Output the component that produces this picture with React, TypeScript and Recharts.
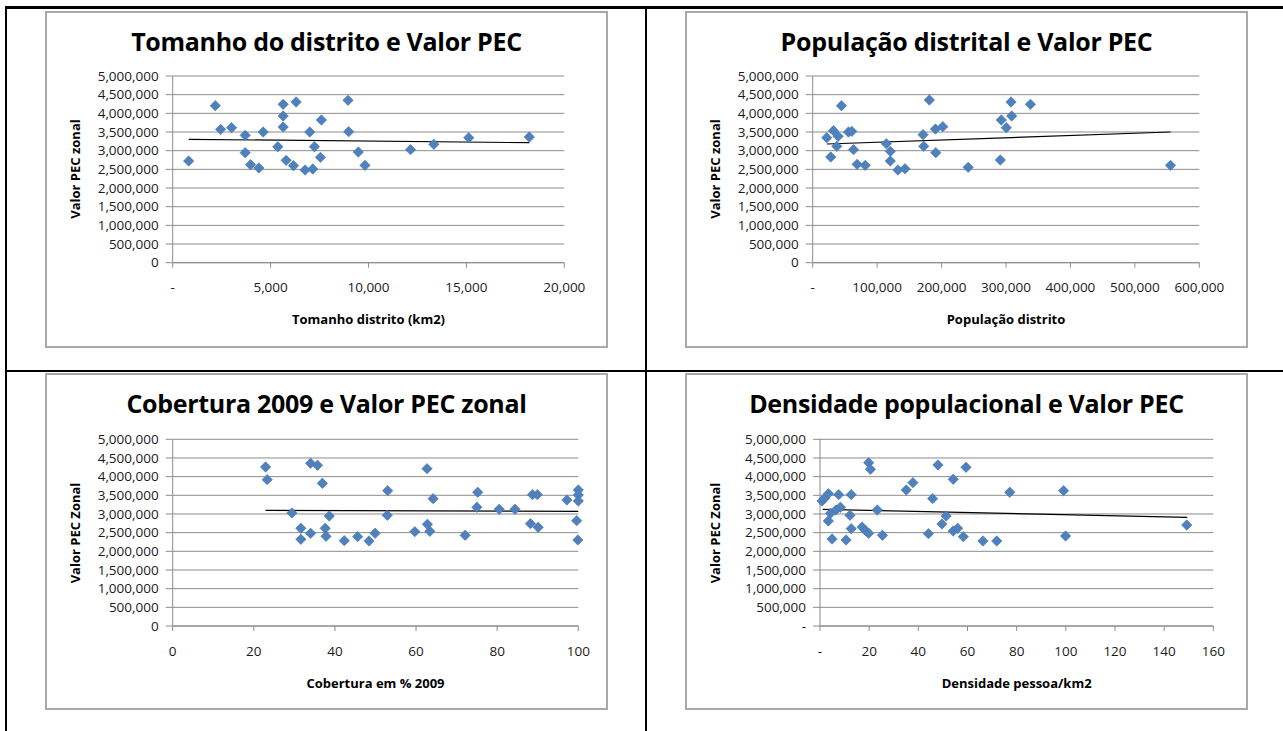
import { CartesianGrid, ReferenceLine, Scatter, ScatterChart, XAxis, YAxis } from "recharts";

const FONT = "'Open Sans', 'Noto Sans', 'Liberation Sans', sans-serif";
const GRID = "#8c8c8c";
const BLUE = "#4F81BD";
const TEXT = "#1a1a1a";

// shared y axis (Valor PEC)
const pecTicks = [0, 500000, 1000000, 1500000, 2000000, 2500000, 3000000, 3500000, 4000000, 4500000, 5000000];

// Tomanho do distrito (km2)
const areaKm2 = [815, 2175, 2447, 3007, 3704, 3704, 3976, 4400, 4621, 5369, 5641, 5641, 5641, 5794, 6168, 6304, 6762, 7000, 7153, 7238, 7544, 7595, 8954, 8988, 9480, 9820, 12148, 13337, 15121, 18213];
const pecByArea = [2723000, 4205000, 3571000, 3616000, 3411000, 2946000, 2625000, 2536000, 3500000, 3107000, 4241000, 3929000, 3634000, 2741000, 2598000, 4304000, 2482000, 3500000, 2509000, 3107000, 2821000, 3821000, 4348000, 3509000, 2964000, 2607000, 3027000, 3170000, 3348000, 3366000];
const areaTrendX = [815, 18213];
const areaTrendY = [3304000, 3214000];
const areaTicks = [0, 5000, 10000, 15000, 20000];

// População distrito
const population = [21800, 28000, 32200, 37400, 39400, 44600, 55500, 60700, 63300, 68900, 81500, 114200, 120400, 120400, 132300, 143200, 171300, 172300, 181100, 190500, 191000, 201900, 241300, 291200, 292700, 300500, 307800, 308800, 337900, 555300];
const pecByPopulation = [3348000, 2830000, 3536000, 3116000, 3384000, 4205000, 3500000, 3518000, 3027000, 2634000, 2607000, 3188000, 2982000, 2723000, 2482000, 2518000, 3429000, 3116000, 4357000, 3580000, 2946000, 3643000, 2554000, 2750000, 3821000, 3616000, 4304000, 3929000, 4241000, 2607000];
const popTrendX = [21800, 555300];
const popTrendY = [3179000, 3500000];
const popTicks = [0, 100000, 200000, 300000, 400000, 500000, 600000];

// Cobertura em % 2009
const coverage = [22.9, 23.3, 29.4, 31.6, 31.6, 34.0, 34.0, 35.7, 36.9, 37.6, 37.8, 38.6, 42.3, 45.6, 48.4, 49.9, 53.0, 52.9, 59.7, 62.7, 62.8, 63.4, 64.2, 72.1, 75.0, 75.2, 80.5, 84.4, 88.2, 88.7, 89.9, 90.1, 97.2, 99.6, 99.9, 100, 100, 100];
const pecByCoverage = [4259000, 3920000, 3027000, 2616000, 2321000, 2482000, 4357000, 4304000, 3821000, 2616000, 2402000, 2946000, 2286000, 2393000, 2277000, 2482000, 3625000, 2964000, 2527000, 4214000, 2723000, 2536000, 3411000, 2429000, 3179000, 3580000, 3125000, 3125000, 2741000, 3518000, 3518000, 2643000, 3375000, 2821000, 2304000, 3643000, 3509000, 3348000];
const covTrendX = [22.9, 100];
const covTrendY = [3098000, 3071000];
const covTicks = [0, 20, 40, 60, 80, 100];

// Densidade pessoa/km2
const density = [0.8, 1.9, 3.4, 3.4, 4.3, 4.9, 6.5, 7.6, 8.3, 10.6, 12.2, 12.7, 12.7, 17.1, 18.7, 19.8, 19.8, 20.5, 23.3, 25.4, 35.1, 37.8, 44.1, 45.8, 48.0, 49.6, 51.3, 54.2, 54.2, 56.0, 58.3, 59.4, 66.3, 71.9, 77.2, 99.1, 99.9, 149.2];
const pecByDensity = [3348000, 3420000, 3545000, 2813000, 3018000, 2330000, 3107000, 3518000, 3179000, 2304000, 2964000, 3518000, 2607000, 2652000, 2545000, 2482000, 4375000, 4196000, 3107000, 2429000, 3643000, 3839000, 2473000, 3411000, 4313000, 2732000, 2946000, 3929000, 2545000, 2616000, 2393000, 4250000, 2277000, 2277000, 3580000, 3625000, 2411000, 2705000];
const denTrendX = [1.1, 149.4];
const denTrendY = [3125000, 2911000];
const denTicks = [0, 20, 40, 60, 80, 100, 120, 140, 160];

const fmt = (v: number) => v.toLocaleString("en-US");

function Diamond(props: any) {
  const { cx, cy } = props;
  if (cx == null || cy == null) return <g />;
  const r = 5.2;
  return (
    <path
      d={`M${cx},${cy - r}L${cx + r},${cy}L${cx},${cy + r}L${cx - r},${cy}Z`}
      fill={BLUE}
      stroke="#4676b0"
      strokeWidth={0.6}
    />
  );
}

interface PanelProps {
  box: { x: number; y: number; w: number; h: number };
  plot: { left: number; right: number; top: number; bottom: number };
  title: string;
  xLabel: string;
  yLabel: string;
  xs: number[];
  ys: number[];
  trendX: number[];
  trendY: number[];
  xTicks: number[];
  zeroX: string;
  zeroY: string;
  xLabelY: number;
}

const Y_W = 90;
const X_H = 30;

function Panel({ box, plot, title, xLabel, yLabel, xs, ys, trendX, trendY, xTicks, zeroX, zeroY, xLabelY }: PanelProps) {
  const data = xs.map((x, i) => ({ x, y: ys[i] }));
  const margin = {
    top: plot.top - box.y,
    right: box.x + box.w - plot.right,
    left: plot.left - box.x - Y_W,
    bottom: box.y + box.h - plot.bottom - X_H,
  };
  const tickStyle = { fontSize: 13.5, fill: TEXT, fontFamily: FONT };
  return (
    <>
      <div
        style={{
          position: "absolute",
          left: box.x,
          top: box.y,
          width: box.w,
          height: box.h,
          border: "2px solid #a8a8a8",
          boxSizing: "border-box",
          background: "#fff",
        }}
      />
      <div style={{ position: "absolute", left: box.x, top: box.y }}>
        <ScatterChart width={box.w} height={box.h} margin={margin}>
          <CartesianGrid vertical={false} stroke={GRID} strokeWidth={1} />
          <XAxis
            type="number"
            dataKey="x"
            domain={[xTicks[0], xTicks[xTicks.length - 1]]}
            ticks={xTicks}
            interval={0}
            height={X_H}
            tickFormatter={(v: number) => (v === 0 ? zeroX : fmt(v))}
            tick={tickStyle}
            tickSize={5}
            tickMargin={15}
            axisLine={{ stroke: GRID }}
            tickLine={{ stroke: GRID }}
          />
          <YAxis
            type="number"
            dataKey="y"
            domain={[0, 5000000]}
            ticks={pecTicks}
            interval={0}
            width={Y_W}
            tickFormatter={(v: number) => (v === 0 ? zeroY : fmt(v))}
            tick={tickStyle}
            tickSize={7}
            tickMargin={7}
            axisLine={{ stroke: GRID }}
            tickLine={{ stroke: GRID }}
          />
          <Scatter data={data} shape={Diamond} isAnimationActive={false} />
          <ReferenceLine
            segment={[
              { x: trendX[0], y: trendY[0] },
              { x: trendX[1], y: trendY[1] },
            ]}
            stroke="#000"
            strokeWidth={1.2}
            ifOverflow="visible"
          />
        </ScatterChart>
      </div>
      <div
        style={{
          position: "absolute",
          left: box.x,
          width: box.w,
          top: box.y + 14,
          lineHeight: "32px",
          textAlign: "center",
          fontFamily: FONT,
          fontWeight: "bold",
          fontSize: 25,
          letterSpacing: -0.3,
          color: "#000",
          whiteSpace: "nowrap",
        }}
      >
        {title}
      </div>
      <div
        style={{
          position: "absolute",
          left: box.x + 30,
          top: (plot.top + plot.bottom) / 2,
          transform: "translate(-50%, -50%) rotate(-90deg)",
          fontFamily: FONT,
          fontWeight: "bold",
          fontSize: 13,
          color: "#000",
          whiteSpace: "nowrap",
        }}
      >
        {yLabel}
      </div>
      <div
        style={{
          position: "absolute",
          left: (plot.left + plot.right) / 2,
          top: xLabelY,
          transform: "translate(-50%, -50%)",
          fontFamily: FONT,
          fontWeight: "bold",
          fontSize: 13,
          color: "#000",
          whiteSpace: "nowrap",
        }}
      >
        {xLabel}
      </div>
    </>
  );
}

export default function App() {
  return (
    <div style={{ position: "absolute", left: 0, top: 0, width: 1283, height: 731, background: "#fff", overflow: "hidden" }}>
      {/* table lines */}
      <div style={{ position: "absolute", left: 5, top: 6, width: 1278, height: 3, background: "#000" }} />
      <div style={{ position: "absolute", left: 5, top: 6, width: 2, height: 725, background: "#000" }} />
      <div style={{ position: "absolute", left: 645, top: 6, width: 2, height: 725, background: "#000" }} />
      <div style={{ position: "absolute", left: 5, top: 370, width: 1278, height: 2, background: "#000" }} />

      <Panel
        box={{ x: 45, y: 11, w: 563, h: 337 }}
        plot={{ left: 172.7, right: 564.3, top: 76, bottom: 262.7 }}
        title="Tomanho do distrito e Valor PEC"
        xLabel="Tomanho distrito (km2)"
        yLabel="Valor PEC zonal"
        xs={areaKm2}
        ys={pecByArea}
        trendX={areaTrendX}
        trendY={areaTrendY}
        xTicks={areaTicks}
        zeroX="-"
        zeroY="0"
        xLabelY={319}
      />
      <Panel
        box={{ x: 685, y: 11, w: 563, h: 337 }}
        plot={{ left: 812.7, right: 1199.3, top: 76, bottom: 262.7 }}
        title="População distrital e Valor PEC"
        xLabel="População distrito"
        yLabel="Valor PEC zonal"
        xs={population}
        ys={pecByPopulation}
        trendX={popTrendX}
        trendY={popTrendY}
        xTicks={popTicks}
        zeroX="-"
        zeroY="0"
        xLabelY={318.5}
      />
      <Panel
        box={{ x: 45, y: 373, w: 563, h: 337 }}
        plot={{ left: 172.7, right: 578.3, top: 439.3, bottom: 626 }}
        title="Cobertura 2009 e Valor PEC zonal"
        xLabel="Cobertura  em % 2009"
        yLabel="Valor  PEC Zonal"
        xs={coverage}
        ys={pecByCoverage}
        trendX={covTrendX}
        trendY={covTrendY}
        xTicks={covTicks}
        zeroX="0"
        zeroY="0"
        xLabelY={682.5}
      />
      <Panel
        box={{ x: 685, y: 373, w: 563, h: 337 }}
        plot={{ left: 820, right: 1213.3, top: 439.3, bottom: 626 }}
        title="Densidade populacional e Valor PEC"
        xLabel="Densidade pessoa/km2"
        yLabel="Valor  PEC Zonal"
        xs={density}
        ys={pecByDensity}
        trendX={denTrendX}
        trendY={denTrendY}
        xTicks={denTicks}
        zeroX="-"
        zeroY="-"
        xLabelY={682.5}
      />
    </div>
  );
}
